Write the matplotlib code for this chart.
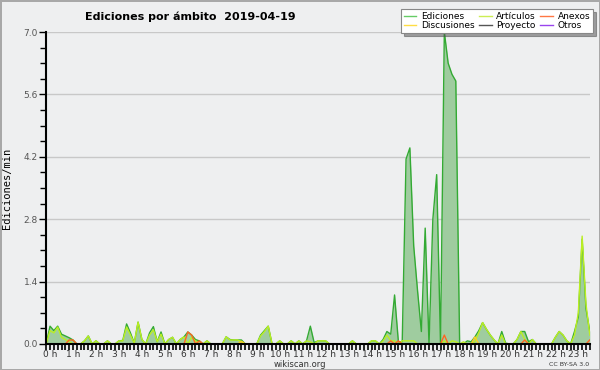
import matplotlib
matplotlib.use("Agg")
import matplotlib.pyplot as plt
import matplotlib.transforms as mtransforms
import numpy as np

# datos cada 10 minutos (00:00 - 23:40)
ediciones = [
    0.00, 0.40, 0.30, 0.40, 0.22, 0.18, 0.14, 0.09, 0.00, 0.00,
    0.07, 0.18, 0.00, 0.07, 0.00, 0.00, 0.07, 0.00, 0.00, 0.07,
    0.08, 0.45, 0.25, 0.02, 0.49, 0.10, 0.00, 0.25, 0.39, 0.05,
    0.27, 0.00, 0.10, 0.15, 0.00, 0.10, 0.16, 0.27, 0.20, 0.10,
    0.07, 0.00, 0.07, 0.00, 0.00, 0.00, 0.00, 0.16, 0.10, 0.09,
    0.09, 0.09, 0.00, 0.00, 0.00, 0.00, 0.20, 0.30, 0.40, 0.00,
    0.00, 0.07, 0.00, 0.00, 0.07, 0.00, 0.07, 0.00, 0.07, 0.40,
    0.03, 0.07, 0.07, 0.07, 0.00, 0.00, 0.00, 0.00, 0.00, 0.00,
    0.07, 0.00, 0.00, 0.00, 0.00, 0.07, 0.07, 0.00, 0.10, 0.28,
    0.22, 1.10, 0.05, 0.05, 4.15, 4.40, 2.20, 1.20, 0.28, 2.60,
    0.00, 2.80, 3.80, 0.00, 7.00, 6.30, 6.05, 5.90, 0.00, 0.00,
    0.07, 0.05, 0.16, 0.30, 0.48, 0.33, 0.20, 0.09, 0.00, 0.28,
    0.02, 0.00, 0.00, 0.10, 0.28, 0.28, 0.05, 0.10, 0.00, 0.00,
    0.00, 0.00, 0.00, 0.15, 0.28, 0.20, 0.07, 0.00, 0.28, 0.60,
    2.35, 0.80, 0.28,
]
articulos = [
    0.00, 0.30, 0.25, 0.38, 0.15, 0.10, 0.05, 0.00, 0.00, 0.00,
    0.07, 0.18, 0.00, 0.07, 0.00, 0.00, 0.07, 0.00, 0.00, 0.07,
    0.07, 0.38, 0.20, 0.02, 0.49, 0.10, 0.00, 0.20, 0.32, 0.05,
    0.22, 0.00, 0.10, 0.15, 0.00, 0.10, 0.16, 0.00, 0.15, 0.07,
    0.00, 0.00, 0.07, 0.00, 0.00, 0.00, 0.00, 0.16, 0.09, 0.09,
    0.09, 0.05, 0.00, 0.00, 0.00, 0.00, 0.18, 0.28, 0.40, 0.00,
    0.00, 0.07, 0.00, 0.00, 0.07, 0.00, 0.07, 0.00, 0.07, 0.05,
    0.00, 0.07, 0.07, 0.07, 0.00, 0.00, 0.00, 0.00, 0.00, 0.00,
    0.07, 0.00, 0.00, 0.00, 0.00, 0.07, 0.07, 0.00, 0.07, 0.20,
    0.07, 0.07, 0.00, 0.07, 0.07, 0.07, 0.07, 0.00, 0.00, 0.00,
    0.00, 0.00, 0.00, 0.00, 0.07, 0.00, 0.07, 0.05, 0.00, 0.05,
    0.00, 0.00, 0.05, 0.25, 0.48, 0.33, 0.20, 0.09, 0.00, 0.20,
    0.00, 0.00, 0.00, 0.10, 0.28, 0.10, 0.00, 0.10, 0.00, 0.00,
    0.00, 0.00, 0.00, 0.15, 0.28, 0.20, 0.07, 0.00, 0.20, 0.70,
    2.42, 0.90, 0.20,
]
anexos_idx = [6, 7, 37, 38, 40, 90, 92, 104, 125, 142]
anexos_val = [0.09, 0.09, 0.27, 0.20, 0.07, 0.07, 0.07, 0.20, 0.09, 0.09]
discusiones_idx = [51, 112]
discusiones_val = [0.06, 0.16]

series_names = ["Ediciones", "Artículos", "Anexos", "Discusiones", "Proyecto", "Otros"]
hour_labels = ["%d h" % h for h in range(24)]

n = len(ediciones)
t = np.arange(n) / 6.0
anexos = np.zeros(n)
anexos[anexos_idx] = anexos_val
discusiones = np.zeros(n)
discusiones[discusiones_idx] = discusiones_val
proyecto = np.zeros(n)
otros = np.zeros(n)

bg = "#eeeff0"
fig = plt.figure(figsize=(6, 3.7), dpi=100, facecolor=bg,
                 edgecolor="#a8a8a8", linewidth=2)
ax = fig.add_axes([0.077, 0.0703, 0.906, 0.8432])
ax.set_facecolor(bg)

ax.fill_between(t, ediciones, color="#9fcc9f", lw=0, zorder=1)
ax.plot(t, ediciones, color="#33aa33", lw=1, zorder=2)
ax.plot(t, articulos, color="#bbee22", lw=1, zorder=2.1)
ax.plot(t, discusiones, color="#ffcc22", lw=1, zorder=2.2)
ax.plot(t, anexos, color="#ff6622", lw=1, zorder=2.3)
ax.plot(t, proyecto, color="#555555", lw=1, zorder=1.5)
ax.plot(t, otros, color="#9944ee", lw=1, zorder=1.5)

ax.set_xlim(0, (n - 1) / 6.0)
ax.set_ylim(0, 7.0)

ax.set_yticks(np.arange(0, 7.01, 1.4))
ax.set_yticks(np.arange(0, 7.01, 0.35), minor=True)
ax.set_yticklabels(["%.1f" % v for v in np.arange(0, 7.01, 1.4)])
ax.set_xticks(np.arange(24))
ax.set_xticks(np.arange(0, 23.7, 1 / 6.0), minor=True)
ax.set_xticklabels(hour_labels)

ax.yaxis.grid(True, which="major", color="#c8c8c8", lw=1)
ax.set_axisbelow(True)
for s in ["top", "right"]:
    ax.spines[s].set_visible(False)
for s in ["left", "bottom"]:
    ax.spines[s].set_linewidth(1.5)
    ax.spines[s].set_zorder(3)

ax.tick_params(axis="y", which="major", length=5, width=1, labelsize=6.5,
               labelcolor="#555555", pad=1)
ax.tick_params(axis="y", which="minor", length=4, width=1)
ax.tick_params(axis="x", which="both", length=4, width=1.2, labelsize=6.5,
               labelcolor="#333333", pad=0)
shift = mtransforms.ScaledTranslation(4 / 100, 0, fig.dpi_scale_trans)
for lab in ax.get_xticklabels():
    lab.set_transform(lab.get_transform() + shift)

ax.set_ylabel("Ediciones/min", family="DejaVu Sans Mono", fontsize=7.5)
ax.yaxis.set_label_coords(-0.062, 0.5)

fig.text(0.142, 0.955, "Ediciones por ámbito  2019-04-19", fontsize=8,
         fontweight="bold", ha="left", va="center")
fig.text(0.5, 0.014, "wikiscan.org", fontsize=6, color="#333333",
         ha="center", va="center")
fig.text(0.982, 0.014, "CC BY-SA 3.0", fontsize=4.5, color="#333333",
         ha="right", va="center")

handles = [
    plt.Line2D([], [], color="#66cc66", lw=1),
    plt.Line2D([], [], color="#ffdd44", lw=1),
    plt.Line2D([], [], color="#ccee55", lw=1),
    plt.Line2D([], [], color="#555555", lw=1),
    plt.Line2D([], [], color="#ff7744", lw=1),
    plt.Line2D([], [], color="#9944ee", lw=1),
]
labels = [series_names[0], series_names[3], series_names[1],
          series_names[4], series_names[2], series_names[5]]
leg = fig.legend(handles, labels, ncol=3, loc="upper right",
                 bbox_to_anchor=(0.988, 0.975), fontsize=6.5, frameon=True,
                 fancybox=False, shadow=True, handlelength=1.4,
                 handletextpad=0.5, columnspacing=0.5, labelspacing=0.05,
                 borderpad=0.3, borderaxespad=0)
leg.get_frame().set_edgecolor("#888888")
leg.get_frame().set_linewidth(0.8)

fig.savefig("out.png", dpi=100)
